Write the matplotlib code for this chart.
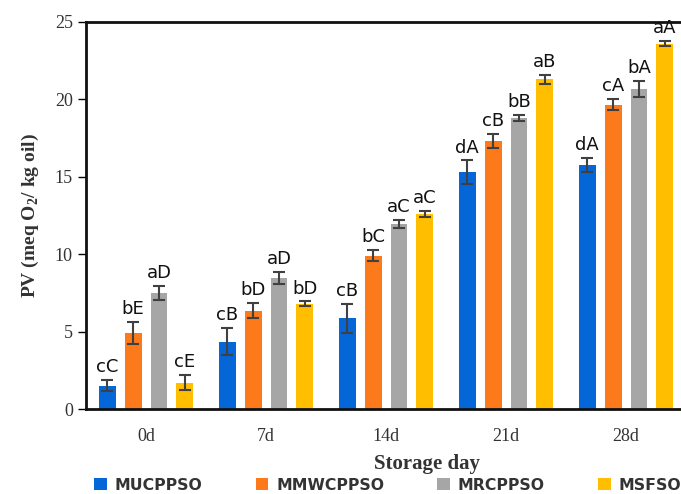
import numpy as np
import matplotlib
matplotlib.use("Agg")
import matplotlib.pyplot as plt

plt.rcParams["mathtext.fontset"] = "custom"
plt.rcParams["mathtext.rm"] = "Liberation Serif:bold"

days = ["0d", "7d", "14d", "21d", "28d"]
series = ["MUCPPSO", "MMWCPPSO", "MRCPPSO", "MSFSO"]
colors = ["#0566d8", "#fc7a1c", "#a6a6a6", "#ffbf00"]

mucppso = [1.5, 4.35, 5.85, 15.3, 15.75]
mmwcppso = [4.9, 6.35, 9.9, 17.3, 19.65]
mrcppso = [7.5, 8.45, 11.95, 18.8, 20.7]
msfso = [1.7, 6.8, 12.6, 21.3, 23.6]

mucppso_err = [0.35, 0.87, 0.93, 0.76, 0.45]
mmwcppso_err = [0.7, 0.5, 0.35, 0.47, 0.36]
mrcppso_err = [0.45, 0.4, 0.25, 0.2, 0.52]
msfso_err = [0.5, 0.15, 0.2, 0.28, 0.17]

mucppso_lbl = ["cC", "cB", "cB", "dA", "dA"]
mmwcppso_lbl = ["bE", "bD", "bC", "cB", "cA"]
mrcppso_lbl = ["aD", "aD", "aC", "bB", "bA"]
msfso_lbl = ["cE", "bD", "aC", "aB", "aA"]

vals = [mucppso, mmwcppso, mrcppso, msfso]
errs = [mucppso_err, mmwcppso_err, mrcppso_err, msfso_err]
lbls = [mucppso_lbl, mmwcppso_lbl, mrcppso_lbl, msfso_lbl]

fig = plt.figure(figsize=(6.81, 4.94), dpi=100)
ax = fig.add_axes([86 / 681, 85 / 494, 1.0, 387 / 494])

x = np.arange(len(days))
step = 0.215
width = 0.14
for i in range(4):
    pos = x + (i - 1.5) * step
    ax.bar(pos, vals[i], width, color=colors[i], label=series[i],
           yerr=errs[i], capsize=4,
           error_kw=dict(ecolor="#404040", elinewidth=1.5, capthick=1.5))
    for p, v, e, t in zip(pos, vals[i], errs[i], lbls[i]):
        ax.text(p, v + e + 0.25, t, ha="center", va="bottom", fontsize=13,
                color="#111111")

ax.set_xlim(-0.5, -0.5 + 681 / 120)
ax.set_ylim(0, 25)
ax.set_yticks([0, 5, 10, 15, 20, 25])
ax.set_xticks(x)
ax.set_xticklabels(days)
ax.tick_params(axis="x", length=0, pad=14, labelsize=13)
ax.tick_params(axis="y", length=6, width=1, labelsize=13, direction="out")
for lab in ax.get_xticklabels() + ax.get_yticklabels():
    lab.set_family("Liberation Serif")
    lab.set_color("#333333")
for s in ["left", "bottom", "top"]:
    ax.spines[s].set_linewidth(2)
    ax.spines[s].set_color("#111111")
ax.spines["right"].set_visible(False)

ax.set_ylabel("PV (meq O$_2$/ kg oil)", family="Liberation Serif",
              fontweight="bold", fontsize=14, color="#333333", labelpad=10)
ax.set_xlabel("Storage day", family="Liberation Serif", fontweight="bold",
              fontsize=15, color="#333333", labelpad=6)

leg = fig.legend(loc="center left", bbox_to_anchor=(80 / 681, 9 / 494), ncol=4,
                 frameon=False, handlelength=0.8, handleheight=0.8,
                 columnspacing=3.4, handletextpad=0.5,
                 prop=dict(family="DejaVu Sans", weight="bold", size=11.3))
for t in leg.get_texts():
    t.set_color("#333333")

fig.savefig("out.png", dpi=100)
